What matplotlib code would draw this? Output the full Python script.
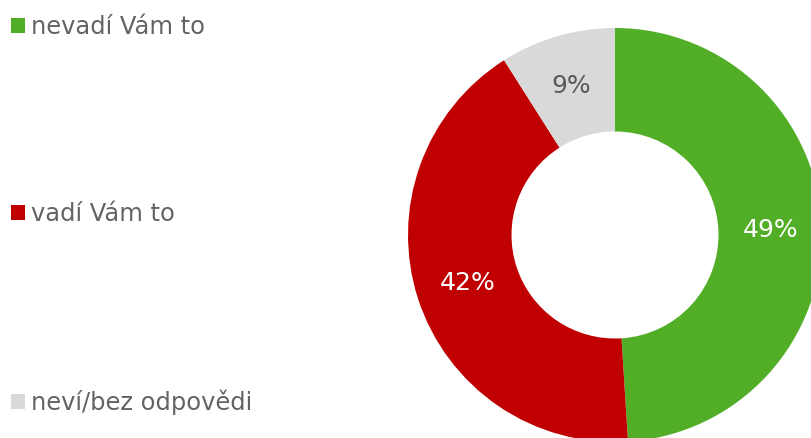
import matplotlib
matplotlib.use("Agg")
import matplotlib.pyplot as plt

plt.rcParams['font.family'] = ['DejaVu Sans']

categories = ["nevadí Vám to", "vadí Vám to", "neví/bez odpovědi"]
values = [49, 42, 9]
colors = ["#52AE26", "#C00000", "#D9D9D9"]
label_colors = ["white", "white", "#595959"]

W, H = 812, 438
fig = plt.figure(figsize=(W / 100, H / 100), dpi=100)

cx, cy, r = 615, 235, 207
ax = fig.add_axes([(cx - r) / W, (H - cy - r) / H, 2 * r / W, 2 * r / H])
wedges, texts, autotexts = ax.pie(
    values, colors=colors, startangle=90, counterclock=False,
    radius=1, wedgeprops=dict(width=0.5, edgecolor="none"),
    autopct=lambda p: f"{p:.0f}%", pctdistance=0.75,
    textprops=dict(fontsize=18))
for t, c in zip(autotexts, label_colors):
    t.set_color(c)
ax.set_xlim(-1, 1)
ax.set_ylim(-1, 1)
ax.set_aspect("equal")
ax.axis("off")

leg = fig.legend(wedges, categories, loc="upper left",
                 bbox_to_anchor=(0.005, 0.982), frameon=False,
                 fontsize=17.4, labelcolor="#636363",
                 handlelength=0.55, handleheight=0.55, handletextpad=0.25,
                 labelspacing=6.75, borderpad=0.3, borderaxespad=0.0)

fig.savefig("out.png", dpi=100)
